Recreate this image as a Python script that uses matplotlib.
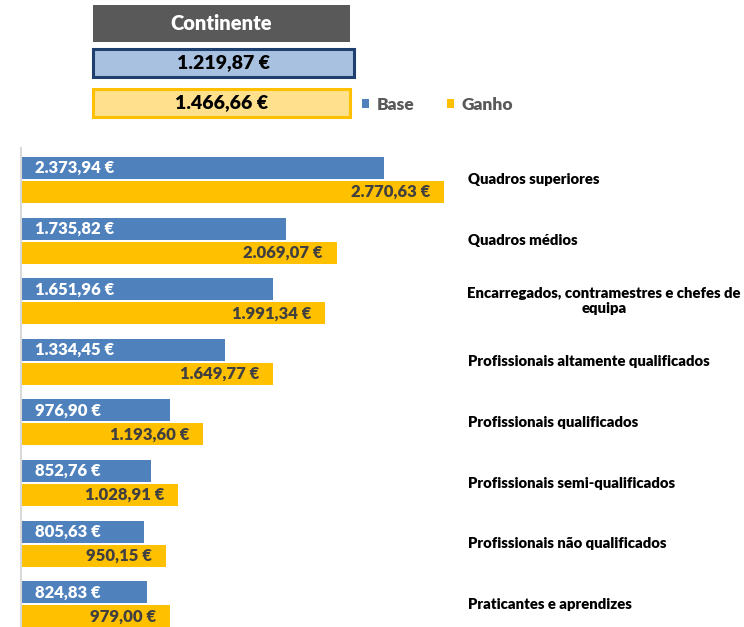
import matplotlib
matplotlib.use('Agg')
import matplotlib.pyplot as plt
from matplotlib.patches import Rectangle
from matplotlib.transforms import blended_transform_factory
import numpy as np

plt.rcParams['font.family'] = ['Lato', 'DejaVu Sans']

# Remuneração média mensal por nível de qualificação - Continente
categorias = ['Quadros superiores',
              'Quadros médios',
              'Encarregados, contramestres e chefes de\nequipa',
              'Profissionais altamente qualificados',
              'Profissionais qualificados',
              'Profissionais semi-qualificados',
              'Profissionais não qualificados',
              'Praticantes e aprendizes']
base = [2373.94, 1735.82, 1651.96, 1334.45, 976.90, 852.76, 805.63, 824.83]
ganho = [2770.63, 2069.07, 1991.34, 1649.77, 1193.60, 1028.91, 950.15, 979.00]
media_base = 1219.87
media_ganho = 1466.66

BLUE = '#4F81BD'
GOLD = '#FFC000'
W, H = 744, 627

def eur(v):
    s = '{:,.2f}'.format(v)
    return s.replace(',', 'X').replace('.', ',').replace('X', '.') + ' €'

def fx(px):
    return px / W

def fy(py):
    return 1 - py / H

fig = plt.figure(figsize=(W / 100, H / 100), dpi=100)

# bars
ax = fig.add_axes([fx(21), 0, fx(744 - 21), (627 - 148) / H])
y = np.arange(len(categorias))
bh = 0.36
off = 0.198
b1 = ax.barh(y - off, base, height=bh, color=BLUE, label='Base')
b2 = ax.barh(y + off, ganho, height=bh, color=GOLD, label='Ganho')
ax.set_xlim(0, 723 / 0.1527)
ax.set_ylim(7.376, -0.528)
ax.set_xticks([])
ax.set_yticks([])
for s in ['top', 'right', 'bottom']:
    ax.spines[s].set_visible(False)
ax.spines['left'].set_color('#D9D9D9')
ax.spines['left'].set_linewidth(1.5)

pad = 14 / 0.1527
for yi, v in zip(y, base):
    ax.text(pad, yi - off, eur(v), color='white', fontsize=12, fontweight='heavy',
            ha='left', va='center')
for yi, v in zip(y, ganho):
    ax.text(v - pad, yi + off, eur(v), color='#404040', fontsize=12, fontweight='heavy',
            ha='right', va='center')

# category names to the right of the bars
tr = blended_transform_factory(fig.transFigure, ax.transData)
for yi, c in zip(y, categorias):
    if '\n' in c:
        ax.text(fx(604), yi, c, transform=tr, fontsize=10.7, fontweight='heavy',
                ha='center', va='center', multialignment='center', linespacing=1.15)
    else:
        ax.text(fx(468), yi, c, transform=tr, fontsize=10.7, fontweight='heavy',
                ha='left', va='center')

# header boxes
def box(x0, y0, x1, y1, fc, ec, lw, text, tc, fs):
    fig.patches.append(Rectangle((fx(x0), fy(y1)), fx(x1 - x0), (y1 - y0) / H,
                                 transform=fig.transFigure, facecolor=fc,
                                 edgecolor=ec, linewidth=lw))
    fig.text(fx((x0 + x1) / 2), fy((y0 + y1) / 2), text, color=tc, fontsize=fs,
             fontweight='heavy', ha='center', va='center')

box(93, 5, 350, 42, '#595959', 'none', 0, 'Continente', 'white', 14.5)
box(93, 49, 354, 77, '#A9C1E1', '#1F3F6F', 2.2, eur(media_base), 'black', 14)
box(93, 89, 350, 117, '#FFE08C', GOLD, 2.2, eur(media_ganho), 'black', 14)

leg = fig.legend(handles=[b1, b2], loc='center left',
                 bbox_to_anchor=(fx(346), fy(105)), ncol=2, frameon=False,
                 handlelength=0.4, handleheight=0.4, handletextpad=0.45,
                 columnspacing=1.9, prop={'weight': 'heavy', 'size': 12.5})
for t in leg.get_texts():
    t.set_color('#595959')

fig.savefig('out.png', dpi=100)
